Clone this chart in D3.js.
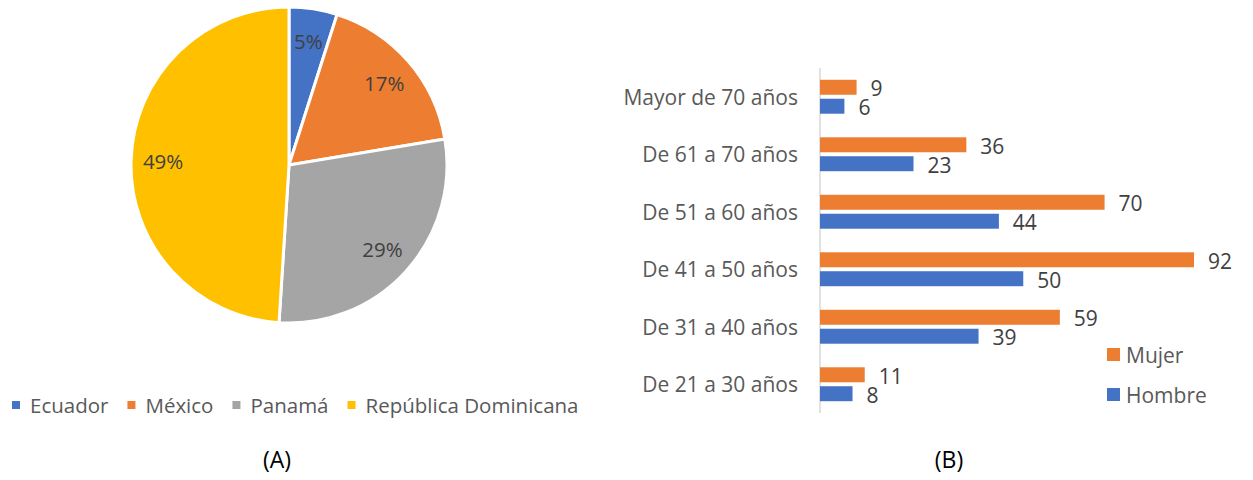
<!DOCTYPE html>
<html>
<head>
<meta charset="utf-8">
<script src="https://cdn.jsdelivr.net/npm/d3@7"></script>
<style>
  body { margin: 0; background: #fff; }
  svg text { font-family: "Open Sans", sans-serif; }
</style>
</head>
<body>
<svg id="chart" width="1253" height="480"></svg>
<script>
// pie (A): countries
const countries = ["Ecuador", "México", "Panamá", "República Dominicana"];
const countryValues = [22, 78, 128, 219];
const countryColors = ["#4472C4", "#ED7D31", "#A5A5A5", "#FFC000"];

// bars (B): age groups, top to bottom
const ageGroups = ["Mayor de 70 años", "De 61 a 70 años", "De 51 a 60 años",
                   "De 41 a 50 años", "De 31 a 40 años", "De 21 a 30 años"];
const mujer = [9, 36, 70, 92, 59, 11];
const hombre = [6, 23, 44, 50, 39, 8];
const sexes = ["Mujer", "Hombre"];
const sexColors = {Mujer: "#ED7D31", Hombre: "#4472C4"};

const svg = d3.select("#chart");

// ---- pie ----
const cx = 289, cy = 165, radius = 158;
const total = d3.sum(countryValues);
const pie = d3.pie().sort(null);
const arc = d3.arc().innerRadius(0).outerRadius(radius);
const labelArc = d3.arc().innerRadius(126).outerRadius(126);

const gPie = svg.append("g").attr("transform", "translate(" + cx + "," + cy + ")");
const arcs = pie(countryValues);

gPie.selectAll("path")
    .data(arcs)
    .join("path")
    .attr("d", arc)
    .attr("fill", (d, i) => countryColors[i])
    .attr("stroke", "#fff")
    .attr("stroke-width", 3);

gPie.selectAll("text")
    .data(arcs)
    .join("text")
    .attr("transform", d => "translate(" + labelArc.centroid(d) + ")")
    .attr("text-anchor", "middle")
    .attr("dominant-baseline", "central")
    .attr("font-size", 20.5)
    .attr("fill", "#404040")
    .text(d => Math.round(d.data / total * 100) + "%");

// pie legend
let lx = 12;
const legA = svg.append("g");
countries.forEach((c, i) => {
    legA.append("rect")
        .attr("x", lx).attr("y", 401)
        .attr("width", 8).attr("height", 8)
        .attr("fill", countryColors[i]);
    const t = legA.append("text")
        .attr("x", lx + 18).attr("y", 405)
        .attr("dominant-baseline", "central")
        .attr("font-size", 20.5)
        .attr("fill", "#595959")
        .text(c);
    lx += 18 + t.node().getComputedTextLength() + 19;
});

svg.append("text")
    .attr("x", 277).attr("y", 459)
    .attr("text-anchor", "middle")
    .attr("dominant-baseline", "central")
    .attr("font-size", 23)
    .attr("fill", "#000")
    .text("(A)");

// ---- bars ----
const x = d3.scaleLinear().domain([0, 92]).range([820, 1194]);
const y = d3.scaleBand().domain(ageGroups).range([68, 413]).paddingInner(0.41).paddingOuter(0.205);
const ySub = d3.scaleBand().domain(sexes).range([0, y.bandwidth()]).paddingInner(0.21);

const rows = ageGroups.map((g, i) => ({group: g, Mujer: mujer[i], Hombre: hombre[i]}));

svg.append("line")
    .attr("x1", x(0)).attr("x2", x(0))
    .attr("y1", 68).attr("y2", 413)
    .attr("stroke", "#d9d9d9")
    .attr("stroke-width", 1.5);

const groups = svg.selectAll("g.age")
    .data(rows)
    .join("g")
    .attr("class", "age")
    .attr("transform", d => "translate(0," + y(d.group) + ")");

const cells = groups.selectAll("g.cell")
    .data(d => sexes.map(s => ({key: s, value: d[s]})))
    .join("g")
    .attr("class", "cell");

cells.append("rect")
    .attr("x", x(0))
    .attr("y", d => ySub(d.key))
    .attr("width", d => x(d.value) - x(0))
    .attr("height", ySub.bandwidth())
    .attr("fill", d => sexColors[d.key]);

cells.append("text")
    .attr("x", d => x(d.value) + 14)
    .attr("y", d => ySub(d.key) + ySub.bandwidth() / 2 + 1)
    .attr("dominant-baseline", "central")
    .attr("font-size", 21)
    .attr("fill", "#404040")
    .text(d => d.value);

svg.selectAll("text.cat")
    .data(ageGroups)
    .join("text")
    .attr("class", "cat")
    .attr("x", 798)
    .attr("y", d => y(d) + y.bandwidth() / 2)
    .attr("text-anchor", "end")
    .attr("dominant-baseline", "central")
    .attr("font-size", 21)
    .attr("fill", "#595959")
    .text(d => d);

// bar legend
const legB = svg.append("g");
sexes.forEach((s, i) => {
    const ly = 355 + i * 40;
    legB.append("rect")
        .attr("x", 1107).attr("y", ly - 7)
        .attr("width", 13).attr("height", 13)
        .attr("fill", sexColors[s]);
    legB.append("text")
        .attr("x", 1126).attr("y", ly)
        .attr("dominant-baseline", "central")
        .attr("font-size", 21)
        .attr("fill", "#595959")
        .text(s);
});

svg.append("text")
    .attr("x", 949).attr("y", 459)
    .attr("text-anchor", "middle")
    .attr("dominant-baseline", "central")
    .attr("font-size", 23)
    .attr("fill", "#000")
    .text("(B)");
</script>
</body>
</html>
